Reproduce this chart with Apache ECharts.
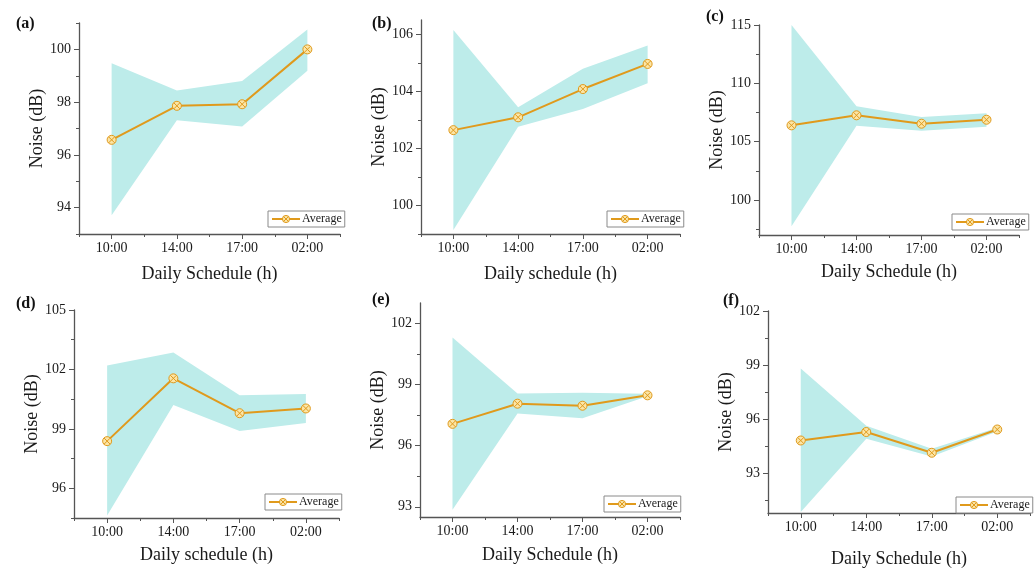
<!DOCTYPE html>
<html>
<head>
<meta charset="utf-8">
<script src="https://cdn.jsdelivr.net/npm/echarts@6/dist/echarts.min.js"></script>
<style>
html,body{margin:0;padding:0;background:#fff;}
#chart{width:1035px;height:569px;}
</style>
</head>
<body>
<div id="chart"></div>
<script>
// ---- data ----
const categories = ['10:00', '14:00', '17:00', '02:00'];

const avgA = [96.57, 97.86, 97.92, 100.0];
const upA  = [99.47, 98.44, 98.80, 100.75];
const lowA = [93.71, 97.31, 97.08, 99.19];

const avgB = [102.64, 103.09, 104.08, 104.96];
const upB  = [106.15, 103.44, 104.79, 105.61];
const lowB = [99.14, 102.76, 103.38, 104.28];

const avgC = [106.40, 107.26, 106.54, 106.88];
const upC  = [115.0, 108.03, 107.11, 107.43];
const lowC = [97.76, 106.37, 105.94, 106.28];

const avgD = [98.38, 101.55, 99.79, 100.03];
const upD  = [102.20, 102.86, 100.70, 100.76];
const lowD = [94.63, 100.20, 98.89, 99.30];

const avgE = [97.07, 98.06, 97.96, 98.47];
const upE  = [101.31, 98.56, 98.60, 98.55];
const lowE = [92.85, 97.58, 97.35, 98.42];

const avgF = [94.82, 95.29, 94.14, 95.43];
const upF  = [98.81, 95.64, 94.36, 95.52];
const lowF = [90.85, 94.92, 93.93, 95.32];

// tick labels (major) and minor ticks
const ticksA = [94, 96, 98, 100];      const minorA = [93, 95, 97, 99, 101];
const ticksB = [100, 102, 104, 106];   const minorB = [99, 101, 103, 105];
const ticksC = [100, 105, 110, 115];   const minorC = [97.5, 102.5, 107.5, 112.5];
const ticksD = [96, 99, 102, 105];     const minorD = [94.5, 97.5, 100.5, 103.5];
const ticksE = [93, 96, 99, 102];      const minorE = [94.5, 97.5, 100.5];
const ticksF = [93, 96, 99, 102];      const minorF = [91.5, 94.5, 97.5, 100.5];

const labels = ['(a)', '(b)', '(c)', '(d)', '(e)', '(f)'];
const xTitles = ['Daily Schedule (h)', 'Daily schedule (h)', 'Daily Schedule (h)',
                 'Daily schedule (h)', 'Daily Schedule (h)', 'Daily Schedule (h)'];
const yTitle = 'Noise (dB)';

// ---- layout / style ----
const FONT = 'Liberation Serif';
const BAND = '#bdecea';
const LINE = '#e09a1c';
const MFILL = '#fbe5a6';
const AXIS = '#555';
const TXT = '#1a1a1a';
const SYMBOL = 'path://M0,5A5,5,0,1,1,10,5A5,5,0,1,1,0,5ZM1.6,1.6L8.4,8.4M8.4,1.6L1.6,8.4';

const panels = [
  {avg: avgA, up: upA, low: lowA, ticks: ticksA, minor: minorA, min: 93, max: 101,
   grid: {left: 79, top: 23, width: 261, height: 211}, yGap: 29, xGap: 31,
   legend: {left: 268, top: 211}, label: {x: 16, y: 25}},
  {avg: avgB, up: upB, low: lowB, ticks: ticksB, minor: minorB, min: 99, max: 106.5,
   grid: {left: 421, top: 20, width: 259, height: 214}, yGap: 30, xGap: 31,
   legend: {left: 607, top: 211}, label: {x: 372, y: 25}},
  {avg: avgC, up: upC, low: lowC, ticks: ticksC, minor: minorC, min: 97, max: 115,
   grid: {left: 759, top: 25, width: 260, height: 210}, yGap: 31, xGap: 28,
   legend: {left: 952, top: 214}, label: {x: 706, y: 18}},
  {avg: avgD, up: upD, low: lowD, ticks: ticksD, minor: minorD, min: 94.5, max: 105,
   grid: {left: 74, top: 310, width: 265, height: 208}, yGap: 31, xGap: 28,
   legend: {left: 265, top: 494}, label: {x: 16, y: 305}},
  {avg: avgE, up: upE, low: lowE, ticks: ticksE, minor: minorE, min: 92.5, max: 103,
   grid: {left: 420, top: 303, width: 260, height: 214}, yGap: 30, xGap: 29,
   legend: {left: 604, top: 496}, label: {x: 372, y: 301}},
  {avg: avgF, up: upF, low: lowF, ticks: ticksF, minor: minorF, min: 90.8, max: 102,
   grid: {left: 768, top: 311, width: 262, height: 202}, yGap: 31, xGap: 37,
   legend: {left: 956, top: 497}, label: {x: 723, y: 302}}
];

const option = {
  animation: false,
  backgroundColor: '#fff',
  textStyle: {fontFamily: FONT},
  grid: [], xAxis: [], yAxis: [], series: [], legend: [], graphic: []
};

panels.forEach((p, i) => {
  option.grid.push(Object.assign({containLabel: false}, p.grid));
  // main x axis: category with ticks on labels
  option.xAxis.push({
    type: 'category', gridIndex: i, position: 'bottom', data: categories, boundaryGap: true,
    axisLine: {show: true, lineStyle: {color: AXIS, width: 1.3}},
    axisTick: {show: true, alignWithLabel: true, length: 5, lineStyle: {color: AXIS}},
    axisLabel: {show: true, margin: 7, fontFamily: FONT, fontSize: 14, color: TXT},
    splitLine: {show: false},
    name: xTitles[i], nameLocation: 'middle', nameGap: p.xGap,
    nameTextStyle: {fontFamily: FONT, fontSize: 18, color: TXT}
  });
  // overlay x axis: short ticks on category boundaries
  option.xAxis.push({
    type: 'category', gridIndex: i, position: 'bottom', data: categories, boundaryGap: true,
    axisLine: {show: false},
    axisTick: {show: true, length: 3, interval: 0, lineStyle: {color: AXIS}},
    axisLabel: {show: false}, splitLine: {show: false}
  });
  // main y axis
  option.yAxis.push({
    type: 'value', gridIndex: i, position: 'left', min: p.min, max: p.max,
    axisLine: {show: true, lineStyle: {color: AXIS, width: 1.3}},
    axisTick: {show: true, length: 5, customValues: p.ticks, lineStyle: {color: AXIS}},
    axisLabel: {show: true, margin: 8, customValues: p.ticks, fontFamily: FONT, fontSize: 14, color: TXT},
    splitLine: {show: false},
    name: yTitle, nameLocation: 'middle', nameGap: p.yGap,
    nameTextStyle: {fontFamily: FONT, fontSize: 18, color: TXT}
  });
  // overlay y axis: minor ticks
  option.yAxis.push({
    type: 'value', gridIndex: i, position: 'left', min: p.min, max: p.max,
    axisLine: {show: false},
    axisTick: {show: true, length: 3, customValues: p.minor, lineStyle: {color: AXIS}},
    axisLabel: {show: false}, splitLine: {show: false}
  });

  const diff = p.up.map((v, k) => v - p.low[k]);
  option.series.push({
    type: 'line', name: 'lower' + i, xAxisIndex: 2 * i, yAxisIndex: 2 * i,
    data: p.low, stack: 'band' + i, symbol: 'none', silent: true,
    lineStyle: {opacity: 0}, z: 1
  });
  option.series.push({
    type: 'line', name: 'band' + i, xAxisIndex: 2 * i, yAxisIndex: 2 * i,
    data: diff, stack: 'band' + i, symbol: 'none', silent: true,
    lineStyle: {opacity: 0}, areaStyle: {color: BAND, opacity: 1}, z: 1
  });
  option.series.push({
    type: 'line', name: 'Average', xAxisIndex: 2 * i, yAxisIndex: 2 * i,
    data: p.avg, symbol: SYMBOL, symbolSize: 9, showSymbol: true,
    lineStyle: {color: LINE, width: 2},
    itemStyle: {color: MFILL, borderColor: LINE, borderWidth: 1},
    z: 3
  });
  option.legend.push({
    data: ['Average'], left: p.legend.left, top: p.legend.top,
    orient: 'horizontal', selectedMode: false,
    backgroundColor: '#fff', borderColor: '#8a8a8a', borderWidth: 1, borderRadius: 0,
    padding: [2, 3, 2, 3], itemWidth: 28, itemHeight: 9, itemGap: 0,
    itemStyle: {color: MFILL, borderColor: LINE, borderWidth: 1},
    lineStyle: {color: LINE, width: 2},
    textStyle: {fontFamily: FONT, fontSize: 12, color: TXT, padding: [0, 0, 0, -3]}
  });
  option.graphic.push({
    type: 'text', left: p.label.x, top: p.label.y - 9,
    style: {text: labels[i], font: 'bold 16px "Liberation Serif"', fill: '#111'}
  });
});

const chart = echarts.init(document.getElementById('chart'), null, {renderer: 'canvas'});
chart.setOption(option);
</script>
</body>
</html>
